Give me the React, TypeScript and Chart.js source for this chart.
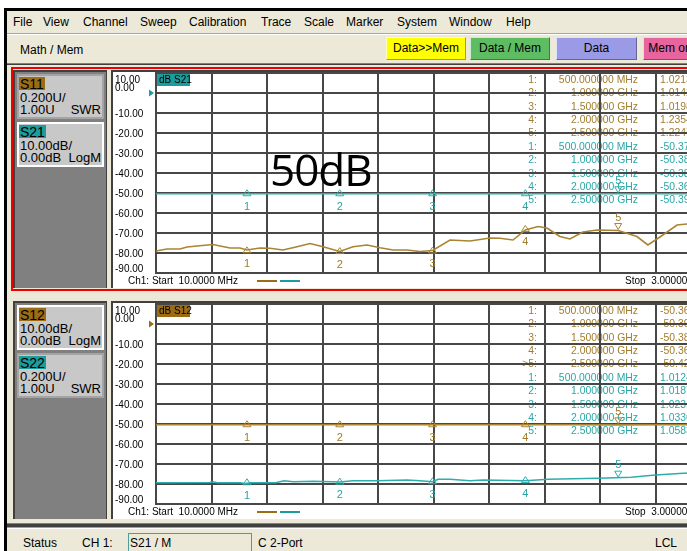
import React, { useEffect, useRef } from "react";
import { Chart, registerables } from "chart.js";
Chart.register(...registerables);

const FONT = "'Liberation Sans', Arial, sans-serif";
const BROWN = "#AB8433";
const BROWN_BG = "#9C6C14";
const BROWN_TXT = "#A07C2C";
const TEAL = "#2DADAD";
const TEAL_BG = "#1C9C9C";
const TEAL_TXT = "#2AA6A6";
const GRID = "#474747";
const BEIGE = "#ECE9D8";

// ---- axes / ticks ----
const freqGridMHz = [10, 309, 608, 907, 1206, 1505, 1804, 2103, 2402, 2701, 3000];
const dbTicks = [10, 0, -10, -20, -30, -40, -50, -60, -70, -80, -90];
const dbTickLabels = ["10.00", "0.00", "-10.00", "-20.00", "-30.00", "-40.00", "-50.00", "-60.00", "-70.00", "-80.00", "-90.00"];
const markerFreqMHz = [500, 1000, 1500, 2000, 2500];
const markerFreqText = ["500.000000 MHz", "1.000000 GHz", "1.500000 GHz", "2.000000 GHz", "2.500000 GHz"];

// ---- panel 1: S11 (SWR) and S21 (dB) ----
const s11FreqMHz = [10, 69, 139, 177, 231, 317, 355, 409, 463, 500, 570, 624, 694, 770, 840, 910, 1000, 1071, 1147, 1217, 1287, 1362, 1432, 1500, 1594, 1702, 1809, 1863, 1933, 2000, 2068, 2116, 2186, 2240, 2310, 2386, 2500, 2601, 2660, 2725, 2817, 2871, 3000];
const s11Swr = [1.02, 1.04, 1.04, 1.06, 1.07, 1.085, 1.07, 1.05, 1.05, 1.03, 1.05, 1.047, 1.03, 1.063, 1.095, 1.063, 1.015, 1.063, 1.08, 1.053, 1.03, 1.03, 1.015, 1.025, 1.13, 1.12, 1.15, 1.147, 1.13, 1.23, 1.265, 1.25, 1.165, 1.14, 1.21, 1.23, 1.225, 1.165, 1.08, 1.16, 1.28, 1.29, 1.3];
const s21FreqMHz = [10, 200, 500, 800, 1000, 1300, 1500, 1800, 2000, 2300, 2500, 2800, 3000];
const s21Db = [-50.35, -50.37, -50.37, -50.38, -50.38, -50.37, -50.38, -50.36, -50.36, -50.38, -50.39, -50.37, -50.38];
const s11MarkerSwr = [1.0213, 1.0142, 1.0198, 1.2354, 1.2247];
const s21MarkerDb = [-50.372, -50.384, -50.381, -50.362, -50.394];

// ---- panel 2: S12 (dB) and S22 (SWR) ----
const s12FreqMHz = [10, 250, 500, 750, 1000, 1250, 1500, 1750, 2000, 2250, 2500, 2750, 3000];
const s12Db = [-50.38, -50.37, -50.36, -50.38, -50.39, -50.38, -50.38, -50.37, -50.36, -50.4, -50.42, -50.4, -50.41];
const s22FreqMHz = [10, 300, 317, 340, 463, 490, 520, 570, 655, 700, 750, 860, 1000, 1071, 1200, 1362, 1432, 1500, 1530, 1594, 1702, 1772, 2000, 2122, 2390, 2570, 2700, 2850, 3000];
const s22Swr = [1.013, 1.015, 1.023, 1.013, 1.013, 1.005, 1.013, 1.013, 1.013, 1.033, 1.023, 1.027, 1.02, 1.033, 1.033, 1.04, 1.033, 1.023, 1.047, 1.047, 1.033, 1.04, 1.033, 1.047, 1.057, 1.067, 1.09, 1.107, 1.115];
const s12MarkerDb = [-50.362, -50.391, -50.383, -50.364, -50.421];
const s22MarkerSwr = [1.0124, 1.0187, 1.0231, 1.0336, 1.0583];

type Trace = {
  color: string;
  txt: string;
  axis: "y" | "swr";
  freq: number[];
  vals: number[];
  markers: number[];
  prefixes: string[];
};

type PanelSpec = {
  traces: Trace[];
  refColor: string;
  dbLabel: string;
  dbLabelBg: string;
};

const panel1: PanelSpec = {
  traces: [
    { color: BROWN, txt: BROWN_TXT, axis: "swr", freq: s11FreqMHz, vals: s11Swr, markers: s11MarkerSwr, prefixes: ["1:", "2:", "3:", "4:", "5:"] },
    { color: TEAL, txt: TEAL_TXT, axis: "y", freq: s21FreqMHz, vals: s21Db, markers: s21MarkerDb, prefixes: ["1:", "2:", "3:", "4:", "5:"] },
  ],
  refColor: TEAL_BG,
  dbLabel: "dB S21",
  dbLabelBg: TEAL_BG,
};

const panel2: PanelSpec = {
  traces: [
    { color: BROWN, txt: BROWN_TXT, axis: "y", freq: s12FreqMHz, vals: s12Db, markers: s12MarkerDb, prefixes: ["1:", "2:", "3:", "4:", ">5:"] },
    { color: TEAL, txt: TEAL_TXT, axis: "swr", freq: s22FreqMHz, vals: s22Swr, markers: s22MarkerSwr, prefixes: ["1:", "2:", "3:", "4:", "5:"] },
  ],
  refColor: BROWN_BG,
  dbLabel: "dB S12",
  dbLabelBg: BROWN_BG,
};

function fmtVal(t: Trace, v: number) {
  return t.axis === "swr" ? v.toFixed(4) + " U" : v.toFixed(3) + " dB";
}

function makeOverlay(spec: PanelSpec) {
  return {
    id: "vnaOverlay",
    beforeDraw(chart: any) {
      const ctx = chart.ctx;
      const a = chart.chartArea;
      ctx.save();
      ctx.font = "10.4px " + FONT;
      ctx.textBaseline = "middle";
      let row = 0;
      spec.traces.forEach((t) => {
        t.markers.forEach((m, i) => {
          const y = a.top + 7 + row * 13.4;
          ctx.fillStyle = t.txt;
          ctx.textAlign = "right";
          ctx.fillText(t.prefixes[i], a.left + 381, y);
          ctx.fillText(markerFreqText[i], a.left + 482, y);
          ctx.textAlign = "left";
          ctx.fillText(fmtVal(t, m), a.left + 504, y);
          row++;
        });
      });
      ctx.restore();
    },
    afterDatasetsDraw(chart: any) {
      const ctx = chart.ctx;
      const xs = chart.scales.x;
      ctx.save();
      ctx.font = "11px " + FONT;
      ctx.textAlign = "center";
      ctx.textBaseline = "middle";
      ctx.lineWidth = 1;
      spec.traces.forEach((t) => {
        const ys = chart.scales[t.axis];
        t.markers.forEach((m, i) => {
          const x = xs.getPixelForValue(markerFreqMHz[i]);
          const y = ys.getPixelForValue(m);
          ctx.strokeStyle = t.color;
          ctx.fillStyle = t.txt;
          ctx.beginPath();
          if (i === 4) {
            ctx.moveTo(x - 3.5, y - 7);
            ctx.lineTo(x + 3.5, y - 7);
            ctx.lineTo(x, y - 1);
            ctx.closePath();
            ctx.stroke();
            ctx.fillText(String(i + 1), x, y - 13);
          } else {
            ctx.moveTo(x - 4, y + 2);
            ctx.lineTo(x + 4, y + 2);
            ctx.lineTo(x, y - 4);
            ctx.closePath();
            ctx.stroke();
            ctx.fillText(String(i + 1), x, y + 13);
          }
        });
      });
      ctx.restore();
    },
    afterDraw(chart: any) {
      const ctx = chart.ctx;
      const a = chart.chartArea;
      const ys = chart.scales.y;
      ctx.save();
      // y tick labels
      ctx.font = "10px " + FONT;
      ctx.fillStyle = "#000";
      ctx.textAlign = "left";
      ctx.textBaseline = "middle";
      dbTicks.forEach((v, i) => {
        let y = ys.getPixelForValue(v) + 1.5;
        if (i === 0) y = a.top + 7;
        if (i === 1) y = ys.getPixelForValue(v) - 4.5;
        if (i === dbTicks.length - 1) y = ys.getPixelForValue(v) - 4;
        ctx.fillText(dbTickLabels[i], a.left - 41, y);
      });
      // reference arrow at 0 dB
      const ry = ys.getPixelForValue(0);
      ctx.fillStyle = spec.refColor;
      ctx.beginPath();
      ctx.moveTo(a.left - 7, ry - 3.5);
      ctx.lineTo(a.left - 2, ry);
      ctx.lineTo(a.left - 7, ry + 3.5);
      ctx.closePath();
      ctx.fill();
      // dB label
      ctx.fillStyle = spec.dbLabelBg;
      ctx.fillRect(a.left + 1, a.top + 1, 33, 12);
      ctx.fillStyle = "#000";
      ctx.font = "10px " + FONT;
      ctx.fillText(spec.dbLabel, a.left + 3, a.top + 7.5);
      // bottom annotation
      const by = a.bottom + 8;
      ctx.fillStyle = "#000";
      ctx.fillText("Ch1: Start  10.0000 MHz", a.left - 28, by);
      ctx.fillText("Stop  3.00000 GHz", a.left + 469, by);
      ctx.lineWidth = 2;
      ctx.strokeStyle = BROWN_BG;
      ctx.beginPath();
      ctx.moveTo(a.left + 101, by);
      ctx.lineTo(a.left + 121, by);
      ctx.stroke();
      ctx.strokeStyle = TEAL_BG;
      ctx.beginPath();
      ctx.moveTo(a.left + 124, by);
      ctx.lineTo(a.left + 144, by);
      ctx.stroke();
      ctx.restore();
    },
  };
}

function buildConfig(spec: PanelSpec): any {
  const axisGrid = { color: GRID, lineWidth: 2, drawTicks: false };
  return {
    type: "line",
    data: {
      datasets: spec.traces.map((t) => ({
        data: t.freq.map((f, i) => ({ x: f, y: t.vals[i] })),
        yAxisID: t.axis,
        borderColor: t.color,
        borderWidth: 1.6,
        pointRadius: 0,
        tension: 0,
        fill: false,
      })),
    },
    options: {
      animation: false,
      responsive: false,
      devicePixelRatio: 1,
      layout: { padding: { left: 43, top: 1, right: 12, bottom: 14 } },
      plugins: { legend: { display: false }, tooltip: { enabled: false } },
      scales: {
        x: {
          type: "linear",
          min: 10,
          max: 3000,
          afterBuildTicks: (s: any) => {
            s.ticks = freqGridMHz.map((v) => ({ value: v }));
          },
          ticks: { display: false },
          grid: axisGrid,
          border: { color: GRID, width: 2 },
        },
        y: {
          type: "linear",
          min: -90,
          max: 10,
          afterBuildTicks: (s: any) => {
            s.ticks = dbTicks.map((v) => ({ value: v }));
          },
          ticks: { display: false },
          grid: axisGrid,
          border: { color: GRID, width: 2 },
        },
        swr: { type: "linear", display: false, min: 0.8, max: 2.8 },
      },
    },
    plugins: [makeOverlay(spec)],
  };
}

function VnaChart({ spec, top }: { spec: PanelSpec; top: number }) {
  const ref = useRef<HTMLCanvasElement>(null);
  useEffect(() => {
    const chart = new Chart(ref.current as HTMLCanvasElement, buildConfig(spec));
    return () => chart.destroy();
  }, []);
  return (
    <canvas
      ref={ref}
      width={610}
      height={215}
      style={{ position: "absolute", left: 113, top, width: 610, height: 215, display: "block" }}
    />
  );
}

function TraceBox(props: { top: number; name: string; bg: string; l1: string; l2a: string; l2b: string; selected: boolean }) {
  const t: React.CSSProperties = { position: "absolute", fontSize: 13, lineHeight: "13px", whiteSpace: "nowrap" };
  return (
    <div
      style={{
        position: "absolute",
        left: 17,
        top: props.top,
        width: 87,
        height: 45,
        boxSizing: "border-box",
        background: "#C8C8C8",
        border: props.selected ? "2px solid #FFFFFF" : "2px solid #A4A4A4",
      }}
    >
      <div style={{ position: "absolute", left: 0, top: 1, height: 13, lineHeight: "14px", padding: "0 1px", background: props.bg, fontSize: 14 }}>{props.name}</div>
      <div style={{ ...t, left: 1, top: 15 }}>{props.l1}</div>
      <div style={{ ...t, left: 1, top: 27 }}>{props.l2a}</div>
      <div style={{ ...t, right: 1, top: 27 }}>{props.l2b}</div>
    </div>
  );
}

function Panel({ dy, spec, active, boxes }: { dy: number; spec: PanelSpec; active: boolean; boxes: any[] }) {
  return (
    <>
      {active && (
        <div style={{ position: "absolute", left: 11, top: 67 + dy, width: 720, height: 224, boxSizing: "border-box", border: "2px solid #F00000" }} />
      )}
      <div style={{ position: "absolute", left: 13, top: 70 + dy, width: 94, height: 218, boxSizing: "border-box", background: "#808080", borderLeft: "2px solid #404040", borderTop: "2px solid #404040", borderRight: "1px solid #404040" }} />
      {boxes.map((b, i) => (
        <TraceBox key={i} {...b} top={b.top + dy} />
      ))}
      <div style={{ position: "absolute", left: 111, top: 70 + dy, width: 620, height: 218, boxSizing: "border-box", background: "#FFFFFF", borderLeft: "2px solid #404040", borderTop: "2px solid #404040" }} />
      <VnaChart spec={spec} top={72 + dy} />
    </>
  );
}

const menuItems = ["File", "View", "Channel", "Sweep", "Calibration", "Trace", "Scale", "Marker", "System", "Window", "Help"];
const menuX = [13, 43, 83, 140, 189, 261, 304, 346, 397, 449, 506];

export default function App() {
  const abs: React.CSSProperties = { position: "absolute", whiteSpace: "nowrap" };
  const btn = (left: number, width: number, bg: string, text: string) => (
    <div
      style={{
        ...abs,
        left,
        top: 37,
        width,
        height: 23,
        boxSizing: "border-box",
        background: bg,
        borderTop: "1px solid rgba(255,255,255,0.7)",
        borderLeft: "1px solid rgba(255,255,255,0.7)",
        borderRight: "1px solid rgba(0,0,0,0.35)",
        borderBottom: "1px solid rgba(0,0,0,0.35)",
        textAlign: "center",
        lineHeight: "21px",
        fontSize: 12,
      }}
    >
      {text}
    </div>
  );
  return (
    <div style={{ position: "fixed", left: 0, top: 0, width: 687, height: 551, overflow: "hidden", background: "#FFFFFF", fontFamily: FONT, color: "#000" }}>
      <div style={{ ...abs, left: 4, top: 8, width: 740, height: 560, background: BEIGE, borderLeft: "3px solid #000", borderTop: "3px solid #000", boxSizing: "border-box" }} />
      {menuItems.map((m, i) => (
        <div key={m} style={{ ...abs, left: menuX[i], top: 15, fontSize: 12, lineHeight: "14px" }}>{m}</div>
      ))}
      <div style={{ ...abs, left: 7, top: 33, width: 700, height: 1, background: "#ACA899" }} />
      <div style={{ ...abs, left: 7, top: 34, width: 700, height: 1, background: "#FFFFFF" }} />
      <div style={{ ...abs, left: 20, top: 43, fontSize: 12, lineHeight: "14px" }}>Math / Mem</div>
      {btn(386, 80, "#FFFF00", "Data>>Mem")}
      {btn(470, 80, "#5EBD62", "Data / Mem")}
      {btn(556, 81, "#9A9AE6", "Data")}
      {btn(643, 80, "#E8649E", "Mem or Data")}
      <div style={{ ...abs, left: 7, top: 63, width: 700, height: 1, background: "#808080" }} />
      <div style={{ ...abs, left: 7, top: 64, width: 700, height: 1, background: "#404040" }} />

      <Panel
        dy={0}
        spec={panel1}
        active={true}
        boxes={[
          { top: 74, name: "S11", bg: BROWN_BG, l1: "0.200U/", l2a: "1.00U", l2b: "SWR", selected: false },
          { top: 122, name: "S21", bg: TEAL_BG, l1: "10.00dB/", l2a: "0.00dB", l2b: "LogM", selected: true },
        ]}
      />
      <Panel
        dy={231}
        spec={panel2}
        active={false}
        boxes={[
          { top: 74, name: "S12", bg: BROWN_BG, l1: "10.00dB/", l2a: "0.00dB", l2b: "LogM", selected: true },
          { top: 122, name: "S22", bg: TEAL_BG, l1: "0.200U/", l2a: "1.00U", l2b: "SWR", selected: false },
        ]}
      />

      <div style={{ ...abs, left: 270, top: 147, fontFamily: "'Open Sans', sans-serif", fontSize: 44, lineHeight: "44px", letterSpacing: -1 }}>50dB</div>

      <div style={{ ...abs, left: 7, top: 523, width: 700, height: 1, background: "#808080" }} />
      <div style={{ ...abs, left: 7, top: 524, width: 700, height: 3, background: "#404040" }} />
      <div style={{ ...abs, left: 7, top: 527, width: 700, height: 1, background: "#A0A0A0" }} />
      <div style={{ ...abs, left: 7, top: 528, width: 700, height: 1, background: "#FFFFFF" }} />
      <div style={{ ...abs, left: 23, top: 536, fontSize: 12, lineHeight: "14px" }}>Status</div>
      <div style={{ ...abs, left: 82, top: 536, fontSize: 12, lineHeight: "14px" }}>CH 1:</div>
      <div style={{ ...abs, left: 128, top: 533, width: 124, height: 24, boxSizing: "border-box", border: "1px solid #4E9E9E" }} />
      <div style={{ ...abs, left: 130, top: 536, fontSize: 12, lineHeight: "14px" }}>S21 / M</div>
      <div style={{ ...abs, left: 258, top: 536, fontSize: 12, lineHeight: "14px" }}>C  2-Port</div>
      <div style={{ ...abs, left: 655, top: 536, fontSize: 12, lineHeight: "14px" }}>LCL</div>
    </div>
  );
}
